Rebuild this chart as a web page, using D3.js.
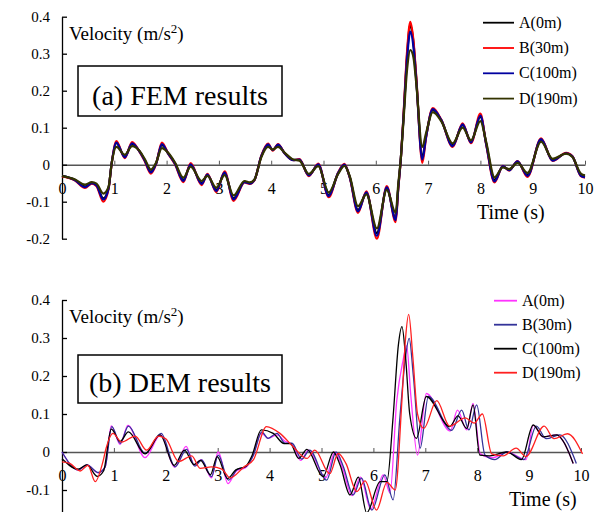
<!DOCTYPE html>
<html>
<head>
<meta charset="utf-8">
<script src="https://cdn.jsdelivr.net/npm/d3@7"></script>
<style>
  body { margin: 0; background: #fff; }
  svg text { font-family: "Liberation Serif", "Times New Roman", "DejaVu Serif", serif !important; }
</style>
</head>
<body>
<div class="container"></div>
<script>
// ---- data: (a) FEM results ----
const femTime = [0, 0.25, 0.44, 0.57, 0.66, 0.79, 0.89, 0.95, 1.04, 1.20, 1.34, 1.49, 1.58, 1.70, 1.80,
  1.91, 2.03, 2.16, 2.32, 2.46, 2.67, 2.78, 2.95, 3.11, 3.28, 3.49, 3.59, 3.68, 3.81, 3.94,
  4.03, 4.13, 4.26, 4.42, 4.54, 4.72, 4.90, 5.10, 5.28, 5.40, 5.50, 5.66, 5.82, 6.02, 6.21,
  6.38, 6.43, 6.48, 6.53, 6.60, 6.66, 6.72, 6.77, 6.89, 6.96, 7.09, 7.25, 7.47, 7.66, 7.82,
  8.00, 8.11, 8.27, 8.43, 8.55, 8.71, 8.90, 9.16, 9.38, 9.64, 9.76, 9.92, 10.0];
const femA = [-0.030, -0.041, -0.059, -0.049, -0.055, -0.091, -0.063, 0.005, 0.058, 0.022, 0.056, 0.035, 0.013, -0.019, 0.004,
  0.053, 0.031, 0.004, -0.041, -0.001, -0.050, -0.028, -0.068, -0.023, -0.091, -0.046, -0.050, -0.041, 0.022, 0.053,
  0.040, 0.053, 0.031, 0.013, 0.013, -0.028, -0.001, -0.082, -0.023, -0.001, -0.032, -0.122, -0.077, -0.185, -0.064,
  -0.145, -0.060, 0.020, 0.130, 0.300, 0.378, 0.330, 0.240, 0.022, 0.076, 0.148, 0.121, 0.053, 0.107, 0.062,
  0.130, 0.058, -0.041, -0.005, -0.014, 0.008, -0.028, 0.067, 0.013, 0.031, 0.022, -0.028, -0.032];
const femB = [-0.032, -0.043, -0.063, -0.051, -0.058, -0.100, -0.066, 0.003, 0.064, 0.018, 0.061, 0.033, 0.010, -0.024, 0.002,
  0.060, 0.030, 0.001, -0.047, 0.004, -0.055, -0.025, -0.074, -0.018, -0.098, -0.048, -0.052, -0.042, 0.024, 0.057,
  0.038, 0.056, 0.030, 0.012, 0.015, -0.031, 0.003, -0.088, -0.021, 0.002, -0.034, -0.130, -0.072, -0.200, -0.058,
  -0.155, -0.065, 0.018, 0.135, 0.310, 0.386, 0.335, 0.245, 0.005, 0.072, 0.153, 0.122, 0.048, 0.112, 0.058,
  0.138, 0.055, -0.048, -0.003, -0.016, 0.010, -0.033, 0.071, 0.010, 0.032, 0.023, -0.031, -0.035];
const femC = [-0.030, -0.042, -0.061, -0.050, -0.056, -0.094, -0.064, 0.004, 0.060, 0.020, 0.058, 0.034, 0.012, -0.021, 0.003,
  0.056, 0.030, 0.003, -0.044, 0.001, -0.052, -0.027, -0.071, -0.021, -0.094, -0.047, -0.051, -0.041, 0.023, 0.055,
  0.039, 0.054, 0.030, 0.012, 0.014, -0.029, 0.001, -0.085, -0.022, 0.000, -0.033, -0.126, -0.075, -0.192, -0.061,
  -0.150, -0.062, 0.019, 0.128, 0.290, 0.360, 0.318, 0.235, 0.014, 0.074, 0.150, 0.121, 0.050, 0.109, 0.060,
  0.133, 0.056, -0.045, -0.004, -0.015, 0.009, -0.030, 0.069, 0.011, 0.031, 0.022, -0.030, -0.034];
const femD = [-0.030, -0.040, -0.054, -0.047, -0.051, -0.078, -0.060, 0.004, 0.048, 0.027, 0.050, 0.036, 0.016, -0.013, 0.006,
  0.045, 0.032, 0.006, -0.035, -0.005, -0.044, -0.030, -0.062, -0.028, -0.083, -0.044, -0.048, -0.040, 0.020, 0.048,
  0.041, 0.048, 0.032, 0.014, 0.011, -0.025, -0.004, -0.075, -0.025, -0.003, -0.030, -0.112, -0.080, -0.172, -0.068,
  -0.130, -0.052, 0.020, 0.120, 0.260, 0.310, 0.290, 0.225, 0.048, 0.085, 0.142, 0.118, 0.058, 0.100, 0.066,
  0.118, 0.062, -0.034, -0.007, -0.012, 0.005, -0.022, 0.062, 0.016, 0.030, 0.021, -0.024, -0.029];

// ---- data: (b) DEM results ----
const demTimeA = [0, 0.31, 0.48, 0.70, 0.83, 0.95, 1.12, 1.27, 1.60, 1.90, 2.17, 2.39, 2.55, 2.68, 2.88, 3.01, 3.20,
  3.36, 3.55, 3.68, 3.84, 3.97, 4.14, 4.30, 4.43, 4.60, 4.75, 5.08, 5.26, 5.40, 5.59, 5.75, 5.95, 6.19, 6.32,
  6.45, 6.57, 6.64, 6.72, 6.85, 7.02, 7.48, 7.62, 7.80, 7.92, 8.06, 8.30, 8.57, 8.94, 9.08, 9.27, 9.53, 9.65, 9.85];
const demA = [0.000, -0.047, -0.034, -0.055, -0.040, 0.069, 0.020, 0.070, -0.015, 0.045, -0.040, 0.015, -0.035, -0.020, -0.068, 0.000, -0.083,
  -0.050, -0.040, -0.010, 0.050, 0.036, 0.045, 0.028, 0.020, -0.022, 0.005, -0.068, 0.000, -0.040, -0.115, -0.066, -0.150, -0.060, -0.108,
  0.135, 0.240, 0.280, 0.150, -0.008, 0.154, 0.055, 0.110, 0.058, 0.128, -0.005, -0.015, 0.000, -0.020, 0.070, 0.040, 0.045, 0.030, -0.030];
const demTimeB = [0, 0.31, 0.48, 0.70, 0.83, 0.96, 1.12, 1.28, 1.60, 1.91, 2.18, 2.40, 2.56, 2.69, 2.88, 3.01, 3.21,
  3.37, 3.56, 3.69, 3.85, 3.97, 4.14, 4.30, 4.43, 4.62, 4.77, 5.10, 5.28, 5.42, 5.61, 5.77, 5.97, 6.22, 6.38,
  6.51, 6.61, 6.69, 6.77, 6.90, 7.06, 7.51, 7.70, 7.84, 7.99, 8.15, 8.34, 8.57, 8.90, 9.14, 9.33, 9.59, 9.91];
const demB = [0.000, -0.047, -0.034, -0.054, -0.040, 0.067, 0.023, 0.068, -0.004, 0.049, -0.039, 0.007, -0.037, -0.021, -0.065, -0.008, -0.074,
  -0.047, -0.037, -0.008, 0.053, 0.036, 0.049, 0.023, 0.023, -0.019, 0.005, -0.074, 0.000, -0.038, -0.113, -0.069, -0.153, -0.060, -0.126,
  0.090, 0.240, 0.299, 0.200, 0.010, 0.146, 0.057, 0.110, 0.058, 0.124, -0.008, -0.020, 0.000, -0.020, 0.068, 0.035, 0.045, -0.030];
const demTimeC = [0, 0.31, 0.48, 0.68, 0.80, 0.95, 1.12, 1.28, 1.60, 1.89, 2.16, 2.36, 2.54, 2.67, 2.86, 2.99, 3.19,
  3.35, 3.54, 3.66, 3.84, 4.07, 4.28, 4.40, 4.56, 4.72, 5.03, 5.23, 5.36, 5.55, 5.71, 5.87, 6.13, 6.26,
  6.38, 6.48, 6.55, 6.62, 6.70, 6.83, 7.02, 7.47, 7.63, 7.80, 7.92, 8.05, 8.24, 8.57, 8.85, 9.08, 9.27, 9.53, 9.65, 9.85];
const demC = [-0.018, -0.045, -0.034, -0.064, -0.050, 0.060, 0.028, 0.053, -0.005, 0.045, -0.035, 0.005, -0.033, -0.022, -0.060, -0.012, -0.070,
  -0.047, -0.038, -0.010, 0.058, 0.049, 0.022, 0.022, -0.017, 0.007, -0.065, 0.000, -0.035, -0.113, -0.066, -0.160, -0.078, -0.078,
  0.093, 0.280, 0.330, 0.250, 0.100, 0.036, 0.146, 0.067, 0.095, 0.062, 0.124, -0.008, -0.010, 0.000, -0.020, 0.071, 0.040, 0.045, 0.030, -0.030];
const demTimeD = [0, 0.15, 0.35, 0.50, 0.64, 0.78, 0.85, 0.98, 1.15, 1.41, 1.63, 1.86, 2.00, 2.25, 2.50, 2.66, 2.88, 3.08,
  3.24, 3.50, 3.69, 3.94, 4.20, 4.46, 4.72, 4.87, 5.16, 5.32, 5.47, 5.68, 5.84, 6.06, 6.26, 6.42,
  6.55, 6.62, 6.68, 6.76, 6.85, 6.97, 7.22, 7.47, 7.77, 7.94, 8.10, 8.28, 8.50, 8.75, 8.94, 9.29, 9.48, 9.74, 10.03];
const demD = [-0.026, -0.030, -0.050, -0.035, -0.078, -0.030, 0.010, 0.049, 0.026, 0.042, 0.005, 0.042, 0.035, -0.025, -0.010, -0.043, -0.039, -0.045,
  -0.068, -0.040, -0.020, 0.067, 0.049, 0.013, -0.017, 0.005, -0.057, -0.004, -0.030, -0.104, -0.076, -0.153, -0.080, -0.100,
  0.137, 0.300, 0.362, 0.250, 0.100, 0.062, 0.135, 0.068, 0.090, 0.076, 0.100, -0.005, -0.010, 0.010, -0.012, 0.068, 0.035, 0.048, -0.005];

const femYTicks = [-0.2, -0.1, 0, 0.1, 0.2, 0.3, 0.4];
const demYTicks = [-0.1, 0, 0.1, 0.2, 0.3, 0.4];   // -0.2 falls below the picture
const xTicks = [0, 1, 2, 3, 4, 5, 6, 7, 8, 9, 10];
const femNames = ["A(0m)", "B(30m)", "C(100m)", "D(190m)"];
const demNames = ["A(0m)", "B(30m)", "C(100m)", "D(190m)"];
const femColors = ["#000000", "#ff0000", "#0000a0", "#333300"];
const demColors = ["#ff33ff", "#333399", "#000000", "#ff2020"];

const FONT = "'Liberation Serif', 'Times New Roman', 'DejaVu Serif', serif";

const svg = d3.select(".container").append("svg")
  .attr("width", 603)
  .attr("height", 512)
  .attr("font-family", FONT)
  .style("display", "block");

function panel(opt) {
  const x = d3.scaleLinear().domain([0, 10]).range([62, opt.xEnd]);
  const y = d3.scaleLinear().domain([-0.2, 0.4]).range([opt.yBottom, opt.yTop]);
  const g = svg.append("g");

  // zero line with x ticks pointing up
  const xa = g.append("g")
    .attr("transform", `translate(0,${y(0)})`)
    .call(d3.axisBottom(x).tickValues(xTicks).tickSizeInner(-4).tickSizeOuter(0).tickPadding(18).tickFormat(d3.format("d")));
  xa.attr("font-family", FONT);
  xa.select(".domain").attr("stroke", "#555").attr("stroke-width", 1.5);
  xa.selectAll(".tick line").attr("stroke", "#555");
  xa.selectAll("text").attr("font-size", 16).attr("fill", "#000");

  // y axis with ticks pointing right
  const ya = g.append("g")
    .attr("transform", "translate(62,0)")
    .call(d3.axisLeft(y).tickValues(opt.yTicks).tickSizeInner(-5).tickSizeOuter(0).tickPadding(12)
      .tickFormat(d => d === 0 ? "0" : d.toFixed(1)));
  ya.attr("font-family", FONT);
  ya.select(".domain").attr("stroke", "#000").attr("stroke-width", 1.3);
  ya.selectAll(".tick line").attr("stroke", "#000").attr("stroke-width", 1.3);
  ya.selectAll("text").attr("font-size", 15).attr("fill", "#000");

  // curves
  const line = d3.line()
    .x(d => x(d[0]))
    .y(d => y(d[1]))
    .curve(d3.curveMonotoneX);
  opt.series.forEach((s, i) => {
    const pts = s.t.map((t, k) => [t, s.v[k]]);
    g.append("path")
      .attr("d", line(pts))
      .attr("fill", "none")
      .attr("stroke", opt.colors[i])
      .attr("stroke-width", opt.lw);
  });

  // y label
  const vt = g.append("text")
    .attr("x", 69)
    .attr("y", opt.yTop + 23)
    .attr("font-size", 19);
  vt.append("tspan").text("Velocity (m/s");
  vt.append("tspan").attr("font-size", 13).attr("dy", -7).text("2");
  vt.append("tspan").attr("dy", 7).text(")");

  // title box
  g.append("rect")
    .attr("x", 78).attr("y", opt.box[0])
    .attr("width", 204).attr("height", opt.box[1] - opt.box[0])
    .attr("fill", "#fff").attr("stroke", "#000").attr("stroke-width", 1.5);
  g.append("text")
    .attr("x", 180).attr("y", opt.box[1] - 11)
    .attr("text-anchor", "middle")
    .attr("font-size", 28)
    .text(opt.title);

  // time label
  g.append("text")
    .attr("x", opt.timeX).attr("y", opt.timeY)
    .attr("font-size", 20)
    .text("Time (s)");

  // legend
  const lg = g.append("g");
  opt.names.forEach((n, i) => {
    const yy = opt.legY + i * opt.legStep;
    lg.append("line")
      .attr("x1", opt.legX).attr("x2", opt.legX + opt.legLen)
      .attr("y1", yy).attr("y2", yy)
      .attr("stroke", opt.colors[i]).attr("stroke-width", 1.8);
    lg.append("text")
      .attr("x", opt.legX + opt.legLen + 5).attr("y", yy + 5)
      .attr("font-size", 16)
      .text(n);
  });
}

panel({
  xEnd: 585, yTop: 16.7, yBottom: 238.7, yTicks: femYTicks,
  series: [
    {t: femTime, v: femA}, {t: femTime, v: femB}, {t: femTime, v: femC}, {t: femTime, v: femD}
  ],
  colors: femColors, names: femNames, lw: 2.2,
  box: [66, 116], title: "(a) FEM results",
  timeX: 477, timeY: 219,
  legX: 483, legLen: 31, legY: 22.7, legStep: 25.3
});

panel({
  xEnd: 581, yTop: 300, yBottom: 528, yTicks: demYTicks,
  series: [
    {t: demTimeA, v: demA}, {t: demTimeB, v: demB}, {t: demTimeC, v: demC}, {t: demTimeD, v: demD}
  ],
  colors: demColors, names: demNames, lw: 1.3,
  box: [355, 403], title: "(b) DEM results",
  timeX: 509, timeY: 506,
  legX: 494, legLen: 23, legY: 300.7, legStep: 24
});
</script>
</body>
</html>
